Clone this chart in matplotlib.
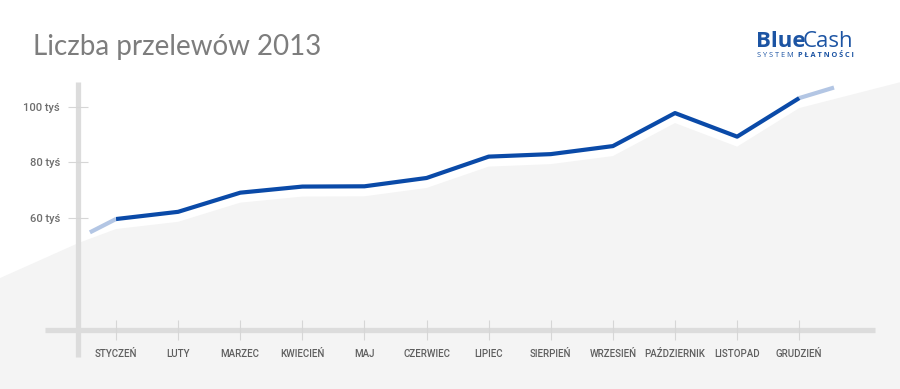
import numpy as np
import matplotlib.pyplot as plt

# Liczba przelewów (tys.) w kolejnych miesiącach 2013
months = ['STYCZEŃ', 'LUTY', 'MARZEC', 'KWIECIEŃ', 'MAJ', 'CZERWIEC',
          'LIPIEC', 'SIERPIEŃ', 'WRZESIEŃ', 'PAŹDZIERNIK', 'LISTOPAD', 'GRUDZIEŃ']
transfers = [59.6, 62.2, 69.1, 71.3, 71.4, 74.4, 82.1, 83.0, 85.9, 97.8, 89.3, 103.2]
ytick_values = [60, 80, 100]
ytick_labels = ['60 tyś', '80 tyś', '100 tyś']

# values shown faded before January and after December
lead_in = 54.8
lead_out = 107.0

BLUE = '#0a4aa8'
PALE = '#b3c6e4'
AXIS = '#dcdcdc'
LOGO = '#1c54a3'

fig = plt.figure(figsize=(9, 3.89), dpi=100)
fig.patch.set_facecolor('white')
ax = fig.add_axes([78 / 900, 59 / 389, 797 / 900, 248 / 389])
ax.patch.set_alpha(0)
x = np.arange(len(months))
ax.set_xlim(-0.612, 12.22)
ax.set_ylim(19.6, 109.0)

# light grey background shape, following the line like a soft shadow
shadow_x = np.concatenate([[-2.0, -0.6], x, [12.9]])
shadow_y = np.concatenate([[37.0, 51.0], np.array(transfers) - 3.6, [110.5]])
bg = ax.fill_between(shadow_x, shadow_y, -5, color='#f4f4f4', lw=0, zorder=0)
bg.set_clip_on(False)

# axis lines
ax.plot([0, 0], [-0.109, 1.0], transform=ax.transAxes, color=AXIS, lw=3.8,
        clip_on=False, zorder=1, solid_capstyle='butt')
ax.plot([-0.0414, 1.0], [0, 0], transform=ax.transAxes, color=AXIS, lw=3.8,
        clip_on=False, zorder=1, solid_capstyle='butt')

# faded ends and the main line
ax.plot([-0.42, 0], [lead_in, transfers[0]], color=PALE, lw=3, zorder=3,
        solid_capstyle='butt', clip_on=False)
ax.plot([11, 11.56], [transfers[-1], lead_out], color=PALE, lw=3, zorder=3,
        solid_capstyle='butt', clip_on=False)
ax.plot(x, transfers, color=BLUE, lw=3, zorder=4, solid_joinstyle='round',
        solid_capstyle='butt', clip_on=False)

for s in ax.spines.values():
    s.set_visible(False)

ax.set_xticks(x)
ax.set_xticklabels(months, fontsize=7, color='#5e5e5e', family='Roboto',
                   fontweight='medium')
ax.set_yticks(ytick_values)
ax.set_yticklabels(ytick_labels, fontsize=8, color='#6e6e6e', family='Roboto',
                   fontweight='medium')
ax.tick_params(axis='x', direction='inout', length=14, width=0.8, color='#d6d6d6', pad=7)
ax.tick_params(axis='y', direction='inout', length=14, width=0.8, color='#d6d6d6', pad=6)

fig.text(33 / 900, 1 - 55 / 389, 'Liczba przelewów 2013', fontsize=20,
         color='#7d7d7d', family='Lato', va='baseline')

# logo
t1 = fig.text(756 / 900, 1 - 47 / 389, 'Blue', fontsize=16, color=LOGO,
              family='Open Sans', fontweight='bold', va='baseline')
fig.canvas.draw()
ax.annotate('Cash', xy=(1, 0), xycoords=t1, xytext=(-2.5, 0),
            textcoords='offset points', ha='left', va='bottom',
            fontsize=16, color=LOGO, family='Open Sans')
t2 = fig.text(757 / 900, 1 - 57 / 389, 'S Y S T E M  ', fontsize=5.3,
              color=LOGO, family='Open Sans', va='baseline')
fig.canvas.draw()
ax.annotate('P Ł A T N O Ś C I', xy=(1, 0), xycoords=t2, ha='left', va='bottom',
            fontsize=5.3, color=LOGO, family='Open Sans', fontweight='bold')

fig.savefig('out.png', dpi=100, facecolor='white')
